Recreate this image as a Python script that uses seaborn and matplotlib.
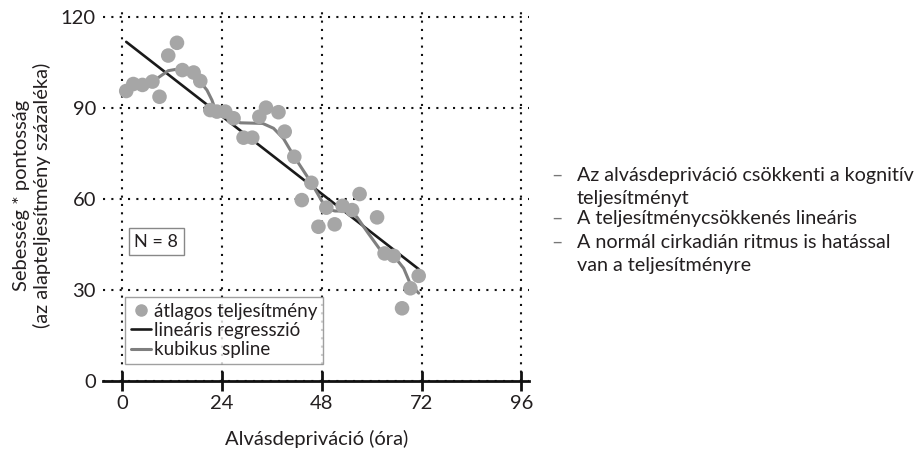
import numpy as np
import matplotlib
matplotlib.use("Agg")
import matplotlib.pyplot as plt
from matplotlib.lines import Line2D
import seaborn as sns
import pandas as pd

# mean performance per hour of sleep deprivation
hours = [1.0, 2.7, 4.9, 7.3, 9.0, 11.1, 13.2, 14.5, 17.2, 18.8,
         21.2, 22.8, 24.8, 26.8, 29.2, 31.3, 33.0, 34.6, 37.6, 39.1,
         41.4, 43.2, 45.5, 47.2, 49.1, 51.1, 53.0, 55.3, 57.1, 61.3,
         63.1, 65.3, 67.3, 69.3, 71.3]
perf = [95.7, 98.0, 97.7, 98.8, 93.8, 107.4, 111.6, 102.6, 101.8, 99.0,
        89.4, 88.9, 88.9, 86.7, 80.3, 80.3, 87.2, 90.2, 88.7, 82.3,
        74.0, 59.7, 65.4, 50.9, 57.2, 51.7, 57.8, 56.4, 61.7, 54.0,
        42.1, 41.3, 24.0, 30.6, 34.7]

# cubic spline curve as drawn
spline_x = [1.0, 2.7, 4.9, 7.3, 8.8, 11.1, 12.8, 14.5, 17.2, 18.8,
            20.4, 21.6, 22.3, 24.8, 28.4, 33.8, 36.4, 38.8, 41.4, 45.5,
            48.1, 49.1, 51.2, 54.0, 56.4, 59.2, 62.1, 65.3, 67.7, 69.3, 71.3]
spline_y = [95.7, 97.5, 97.7, 98.6, 100.2, 102.4, 102.8, 102.6, 101.5, 98.7,
            96.0, 92.7, 90.0, 88.5, 85.2, 85.0, 83.4, 80.0, 74.0, 65.4,
            59.2, 56.8, 56.1, 56.1, 54.2, 48.7, 43.2, 41.3, 37.2, 32.0, 29.0]

x_ticks = [0, 24, 48, 72, 96]
y_ticks = [0, 30, 60, 90, 120]

notes = ["Az alvásdepriváció csökkenti a kognitív\nteljesítményt",
         "A teljesítménycsökkenés lineáris",
         "A normál cirkadián ritmus is hatással\nvan a teljesítményre"]

sns.set_theme(style="white")
plt.rcParams['font.family'] = ['Lato', 'DejaVu Sans']
plt.rcParams['font.size'] = 13
ink = "#231f20"

df = pd.DataFrame({"hours": hours, "perf": perf})
sp = pd.DataFrame({"x": spline_x, "y": spline_y})

fig = plt.figure(figsize=(9.19, 4.5), dpi=100)
ax = fig.add_axes([0.112, 0.1533, 0.464, 0.827])

sns.regplot(data=df, x="hours", y="perf", ax=ax, scatter=False, ci=None,
            truncate=True, color="#1a1a1a", line_kws=dict(lw=1.9, zorder=3))
sns.lineplot(data=sp, x="x", y="y", ax=ax, color="#7f7f7f", lw=2.2,
             zorder=4, sort=False)
sns.scatterplot(data=df, x="hours", y="perf", ax=ax, s=110, color="#a6a6a6",
                edgecolor="none", zorder=5)

ax.set_xlim(-4.6, 97.9)
ax.set_ylim(0, 122.8)
ax.set_xticks(x_ticks)
ax.set_yticks(y_ticks)
ax.grid(True, color="#111111", linestyle=(0, (1, 3)), lw=1.5)
for s in ["left", "right", "top"]:
    ax.spines[s].set_visible(False)
ax.spines["bottom"].set_color("#111111")
ax.spines["bottom"].set_linewidth(2.0)
ax.tick_params(axis="x", direction="inout", length=14, width=2,
               color="#111111", labelsize=14.5, pad=3, bottom=True,
               labelcolor=ink)
ax.tick_params(axis="y", length=0, labelsize=14.5, pad=5, left=False,
               labelcolor=ink)
ax.set_xlabel("Alvásdepriváció (óra)", fontsize=14.5, labelpad=13,
              color=ink)
ax.set_ylabel("Sebesség * pontosság\n(az alapteljesítmény százaléka)",
              fontsize=14.5, labelpad=7, linespacing=1.2, color=ink)

ax.text(8.2, 45.9, "N = 8", fontsize=13, ha="center", va="center",
        color=ink,
        bbox=dict(boxstyle="square,pad=0.3", fc="white", ec="#888888", lw=1.0),
        zorder=6)

handles = [Line2D([], [], marker="o", ls="none", color="#a6a6a6", ms=8),
           Line2D([], [], color="#1a1a1a", lw=1.9),
           Line2D([], [], color="#7f7f7f", lw=2.2)]
labels = ["átlagos teljesítmény", "lineáris regresszió", "kubikus spline"]
leg = ax.legend(handles, labels, loc="lower left", bbox_to_anchor=(0.052, 0.046),
                fontsize=13.5, frameon=True, fancybox=False, handlelength=1.1,
                handletextpad=0.15, borderpad=0.3, labelspacing=0.12,
                borderaxespad=0)
leg.get_frame().set_edgecolor("#888888")
leg.get_frame().set_linewidth(1.0)
leg.set_zorder(7)
for t in leg.get_texts():
    t.set_color(ink)

ys = [167, 210, 234]
for y, note in zip(ys, notes):
    fig.text(551 / 919, 1 - y / 450, "–", fontsize=14.2, va="top",
             color="#777777")
    fig.text(577 / 919, 1 - y / 450, note, fontsize=14.2, va="top",
             linespacing=1.45, color=ink)

fig.savefig("out.png", dpi=100)
